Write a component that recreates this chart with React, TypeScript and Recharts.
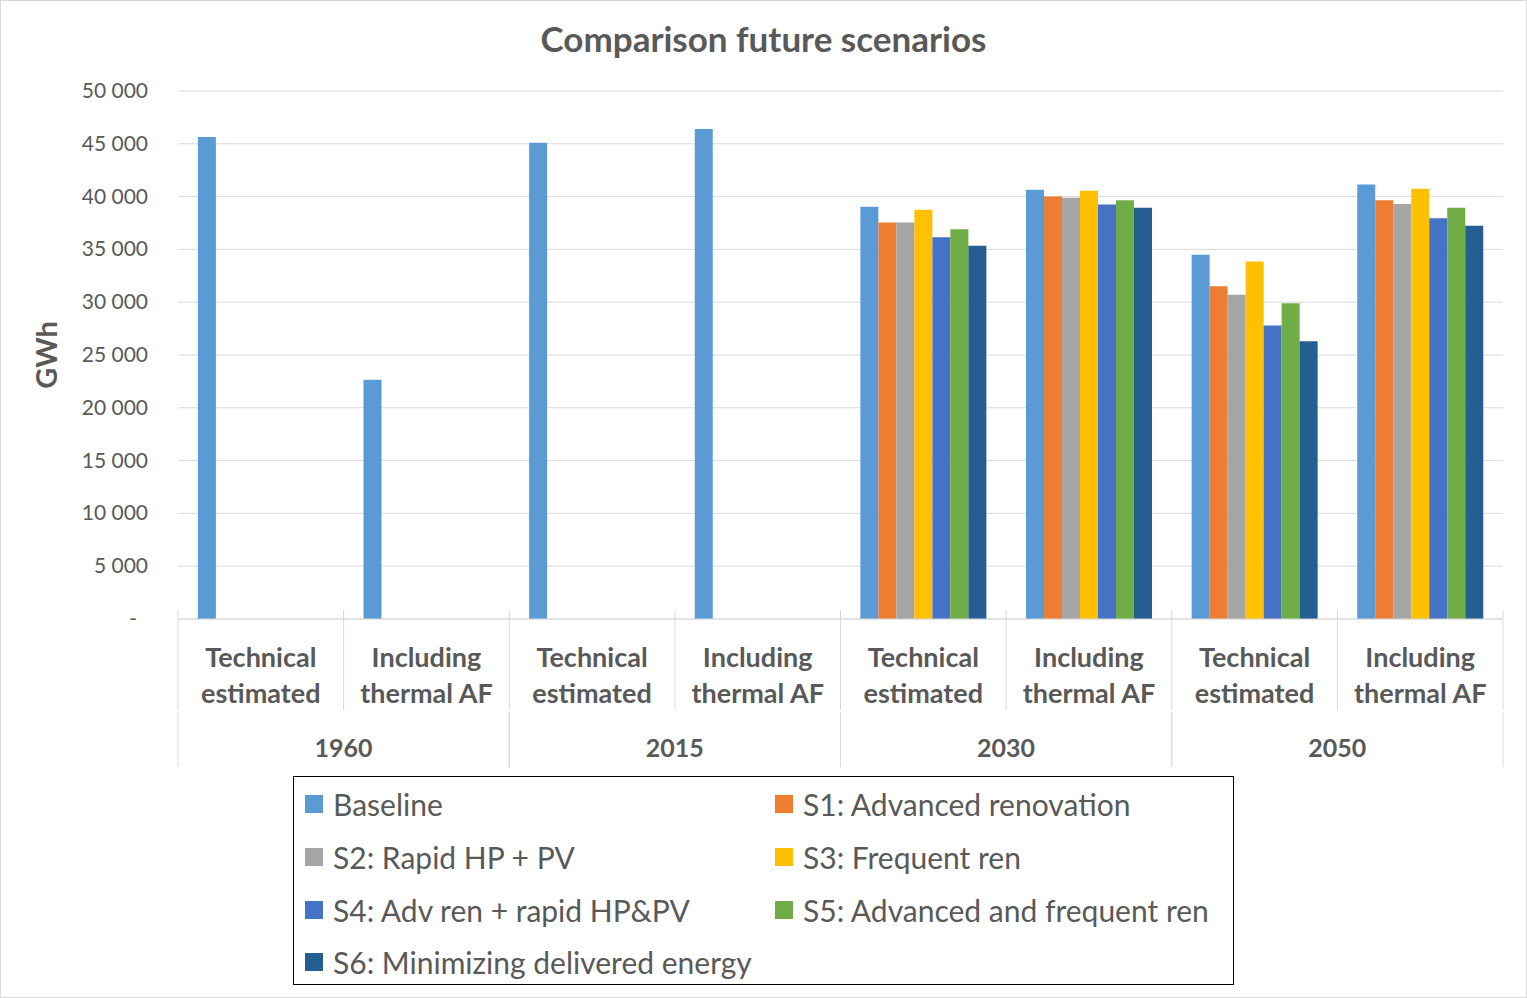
import { BarChart, Bar, XAxis, YAxis, CartesianGrid, Legend } from "recharts";

const years = ["1960", "2015", "2030", "2050"];
const subCategories = ["Technical estimated", "Including thermal AF"];

const seriesNames = [
  "Baseline",
  "S1: Advanced renovation",
  "S2: Rapid HP + PV",
  "S3: Frequent ren",
  "S4: Adv ren + rapid HP&PV",
  "S5: Advanced and frequent ren",
  "S6: Minimizing delivered energy",
];
const seriesColors = ["#5B9BD5", "#ED7D31", "#A5A5A5", "#FFC000", "#4472C4", "#70AD47", "#255E91"];

// GWh, order: 1960 tech, 1960 incl, 2015 tech, 2015 incl, 2030 tech, 2030 incl, 2050 tech, 2050 incl
const baseline = [45650, 22650, 45100, 46400, 39050, 40650, 34500, 41150];
const s1 = [null, null, null, null, 37550, 40000, 31500, 39650];
const s2 = [null, null, null, null, 37550, 39900, 30700, 39300];
const s3 = [null, null, null, null, 38750, 40550, 33850, 40750];
const s4 = [null, null, null, null, 36150, 39250, 27800, 37950];
const s5 = [null, null, null, null, 36900, 39650, 29900, 38950];
const s6 = [null, null, null, null, 35350, 38950, 26300, 37250];
const seriesValues = [baseline, s1, s2, s3, s4, s5, s6];

const yTicks = [0, 5000, 10000, 15000, 20000, 25000, 30000, 35000, 40000, 45000, 50000];

const data = years.flatMap((year, yi) =>
  subCategories.map((sub, si) => {
    const row: Record<string, any> = { year, sub };
    seriesValues.forEach((vals, k) => {
      row["s" + k] = vals[yi * subCategories.length + si];
    });
    return row;
  })
);

const FONT = "Lato, 'Open Sans', sans-serif";
const TEXT = "#595959";
const GRID = "#d9d9d9";

const fmt = (v: number) => (v === 0 ? "-" : String(v).replace(/\B(?=(\d{3})+(?!\d))/g, " "));

const YTick = (props: any) => {
  const { x, y, payload } = props;
  const v = payload.value;
  return (
    <text
      x={v === 0 ? x - 11 : x}
      y={y}
      dy={7}
      textAnchor="end"
      fill={TEXT}
      fontSize={21}
      fontFamily={FONT}
    >
      {fmt(v)}
    </text>
  );
};

const SubTick = (props: any) => {
  const { x, y, payload, width } = props;
  const half = payload?.offset || width / data.length / 2;
  const text = String(payload.value);
  const cut = text.indexOf(" ");
  const lines = [text.slice(0, cut), text.slice(cut + 1)];
  return (
    <g>
      <line x1={x - half} x2={x - half} y1={y - 9} y2={y + 91} stroke={GRID} />
      {payload.index === data.length - 1 && (
        <line x1={x + half} x2={x + half} y1={y - 9} y2={y + 91} stroke={GRID} />
      )}
      {lines.map((l, i) => (
        <text
          key={i}
          x={x}
          y={y + 48 + i * 36}
          textAnchor="middle"
          fill={TEXT}
          fontSize={27}
          fontWeight="bold"
          fontFamily={FONT}
        >
          {l}
        </text>
      ))}
    </g>
  );
};

const YearTick = (props: any) => {
  const { x, y, payload, width } = props;
  const half = payload?.offset || width / years.length / 2;
  return (
    <g>
      <line x1={x - half} x2={x - half} y1={y} y2={y + 55} stroke={GRID} />
      <line x1={x + half} x2={x + half} y1={y} y2={y + 55} stroke={GRID} />
      <text x={x} y={y + 45} textAnchor="middle" fill={TEXT} fontSize={25} fontWeight="bold" fontFamily={FONT}>
        {payload.value}
      </text>
    </g>
  );
};

const LegendBox = () => (
  <div
    style={{
      border: "1px solid #000",
      boxSizing: "border-box",
      width: 941,
      height: 209,
      padding: "1px 0 0 11px",
      display: "grid",
      gridTemplateColumns: "470px 458px",
      gridAutoRows: "52.7px",
      fontFamily: FONT,
      fontSize: 30,
      lineHeight: "36px",
      color: TEXT,
      background: "#fff",
    }}
  >
    {seriesNames.map((name, i) => (
      <div key={name} style={{ display: "flex", alignItems: "center", whiteSpace: "nowrap" }}>
        <span style={{ width: 18, height: 18, background: seriesColors[i], marginRight: 10, flex: "none" }} />
        {name}
      </div>
    ))}
  </div>
);

export default function App() {
  return (
    <div
      style={{
        position: "absolute",
        left: 0,
        top: 0,
        width: 1527,
        height: 998,
        border: "1px solid #d9d9d9",
        boxSizing: "border-box",
        background: "#fff",
        overflow: "hidden",
      }}
    >
      <div
        style={{
          position: "absolute",
          top: 16,
          width: "100%",
          textAlign: "center",
          fontFamily: FONT,
          fontWeight: "bold",
          fontSize: 35,
          color: TEXT,
        }}
      >
        Comparison future scenarios
      </div>
      <div style={{ position: "absolute", left: -1, top: -1 }}>
        <BarChart
          width={1527}
          height={998}
          data={data}
          margin={{ top: 91, right: 24, bottom: 231, left: 0 }}
          barCategoryGap="12%"
          barGap={0}
        >
          <CartesianGrid vertical={false} stroke={GRID} strokeWidth={1} />
          <XAxis
            dataKey="sub"
            xAxisId={0}
            interval={0}
            height={93}
            tickSize={0}
            tickMargin={0}
            axisLine={{ stroke: GRID }}
            tick={<SubTick />}
          />
          <XAxis
            dataKey="year"
            xAxisId="year"
            allowDuplicatedCategory={false}
            interval={0}
            height={55}
            tickSize={0}
            tickMargin={0}
            axisLine={false}
            tick={<YearTick />}
          />
          <YAxis
            width={178}
            domain={[0, 50000]}
            ticks={yTicks}
            interval={0}
            axisLine={false}
            tickLine={false}
            tickSize={0}
            tickMargin={30}
            tick={<YTick />}
            label={{
              value: "GWh",
              angle: -90,
              position: "insideLeft",
              dx: 42,
              fill: TEXT,
              fontSize: 29,
              fontWeight: "bold",
              fontFamily: FONT,
              style: { textAnchor: "middle" },
            }}
          />
          {seriesNames.map((name, k) => (
            <Bar
              key={name}
              xAxisId={0}
              dataKey={"s" + k}
              name={name}
              fill={seriesColors[k]}
              isAnimationActive={false}
            />
          ))}
          <Legend
            layout="horizontal"
            verticalAlign="middle"
            align="center"
            wrapperStyle={{ left: 293, top: 776, width: 941, height: 209 }}
            content={() => <LegendBox />}
          />
        </BarChart>
      </div>
    </div>
  );
}
